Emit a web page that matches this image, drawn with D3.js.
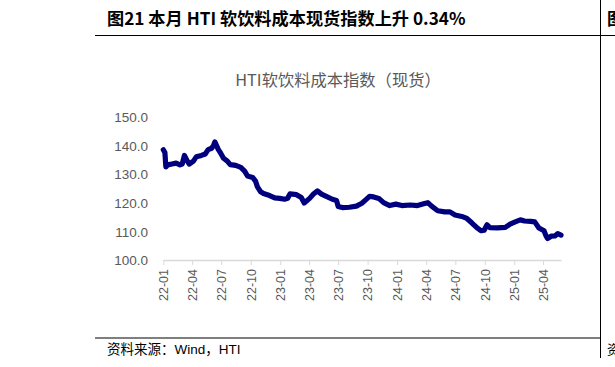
<!DOCTYPE html>
<html>
<head>
<meta charset="utf-8">
<script src="https://cdn.jsdelivr.net/npm/d3@7"></script>
<style>
  html, body { margin: 0; padding: 0; background: #fff; }
  svg { display: block; }
</style>
</head>
<body>
<svg id="chart" width="615" height="367"></svg>
<script>
// ---- data ----
const dates = ["2022-01-01","2022-01-06","2022-01-09","2022-01-15","2022-01-28","2022-02-10","2022-02-22","2022-03-01","2022-03-08","2022-03-17","2022-03-23","2022-04-05","2022-04-14","2022-04-30","2022-05-12","2022-05-21","2022-06-01","2022-06-07","2022-06-11","2022-06-16","2022-06-22","2022-06-28","2022-07-08","2022-07-20","2022-07-29","2022-08-15","2022-08-31","2022-09-12","2022-09-21","2022-10-07","2022-10-16","2022-10-22","2022-11-01","2022-11-10","2022-11-29","2022-12-15","2022-12-31","2023-01-15","2023-01-24","2023-02-01","2023-02-21","2023-03-08","2023-03-17","2023-04-03","2023-04-15","2023-04-27","2023-05-10","2023-05-25","2023-06-13","2023-06-26","2023-07-01","2023-07-14","2023-08-05","2023-08-27","2023-09-13","2023-09-25","2023-10-07","2023-10-20","2023-11-05","2023-11-20","2023-12-09","2023-12-28","2024-01-16","2024-02-11","2024-03-05","2024-03-24","2024-04-06","2024-04-18","2024-05-07","2024-05-29","2024-06-14","2024-06-30","2024-07-21","2024-08-06","2024-08-22","2024-09-07","2024-09-20","2024-09-29","2024-10-08","2024-10-17","2024-11-09","2024-12-04","2024-12-19","2025-01-04","2025-01-20","2025-02-02","2025-02-21","2025-03-06","2025-03-19","2025-04-04","2025-04-10","2025-04-15","2025-04-26","2025-05-08","2025-05-17","2025-05-27"];
const values = [138.5,137.5,132.5,133.2,133.5,133.8,133.2,133.5,136.5,134.5,133.5,134.5,136.0,136.5,137.0,138.5,139.0,140.0,141.2,140.0,138.5,137.5,135.5,134.5,133.3,133.0,132.3,131.0,129.3,128.8,127.5,125.5,123.8,123.2,122.5,121.7,121.5,121.2,121.5,123.1,122.8,121.8,119.9,121.5,123.0,124.1,123.0,122.2,121.2,120.8,118.7,118.3,118.4,118.8,119.8,121.0,122.2,122.0,121.5,120.0,119.0,119.5,119.0,119.2,119.0,119.6,120.0,118.8,117.2,116.8,116.8,115.7,115.2,114.5,112.9,111.2,110.2,110.4,112.3,111.3,111.2,111.4,112.5,113.3,114.0,113.6,113.5,113.3,111.2,110.2,108.5,107.5,108.3,108.4,109.2,108.7];
const yTicks = [100, 110, 120, 130, 140, 150];
const xTickDates = ["2022-01-01","2022-04-01","2022-07-01","2022-10-01","2023-01-01","2023-04-01","2023-07-01","2023-10-01","2024-01-01","2024-04-01","2024-07-01","2024-10-01","2025-01-01","2025-04-01"];
const figTitle = "图21 本月 HTI 软饮料成本现货指数上升 0.34%";
const chartTitle = "HTI软饮料成本指数（现货）";
const sourceText = "资料来源：Wind，HTI";

// ---- drawing ----
const parse = d3.utcParse("%Y-%m-%d");
const data = dates.map((d, i) => ({ date: parse(d), value: values[i] }));
const svg = d3.select("#chart");
const cjk = "'Noto Sans CJK SC', 'Liberation Sans', sans-serif";
const latin = "'Liberation Sans', Arial, 'Noto Sans CJK SC', sans-serif";

// frame lines
svg.append("line").attr("x1", 95).attr("x2", 615).attr("y1", 35.5).attr("y2", 35.5)
  .attr("stroke", "#000").attr("stroke-width", 1);
svg.append("line").attr("x1", 600.5).attr("x2", 600.5).attr("y1", 0).attr("y2", 358)
  .attr("stroke", "#000").attr("stroke-width", 1);
svg.append("line").attr("x1", 95).attr("x2", 600).attr("y1", 338).attr("y2", 338)
  .attr("stroke", "#7f7f7f").attr("stroke-width", 2);

// figure title
svg.append("text").attr("x", 107).attr("y", 25)
  .attr("font-family", cjk).attr("font-weight", "bold").attr("font-size", 17.2)
  .attr("fill", "#000").text(figTitle);
// neighbouring column text, cut off by the page edge as in the reference
svg.append("text").attr("x", 607).attr("y", 25)
  .attr("font-family", cjk).attr("font-weight", "bold").attr("font-size", 17)
  .attr("fill", "#000").text("图22");
svg.append("text").attr("x", 607).attr("y", 354)
  .attr("font-family", cjk).attr("font-size", 13)
  .attr("fill", "#000").text("资料");

// chart title
svg.append("text").attr("x", 338).attr("y", 86).attr("text-anchor", "middle")
  .attr("font-family", cjk).attr("font-size", 16.3)
  .attr("fill", "#595959").text(chartTitle);

// scales
const x = d3.scaleUtc().domain([data[0].date, data[data.length - 1].date]).range([163.3, 561]);
const y = d3.scaleLinear().domain([100, 150]).range([260, 116.7]);

// y axis labels (no axis line)
const yAxis = d3.axisLeft(y).tickValues(yTicks).tickFormat(d3.format(".1f")).tickSize(0).tickPadding(0);
const yg = svg.append("g").attr("transform", "translate(148,0)").call(yAxis);
yg.select(".domain").remove();
yg.selectAll("text").attr("font-family", latin).attr("font-size", 13.5).attr("fill", "#595959").attr("dy", "0.35em");

// x axis
const xAxis = d3.axisBottom(x).tickValues(xTickDates.map(parse)).tickFormat(d3.utcFormat("%y-%m")).tickSize(5).tickSizeOuter(0);
const xg = svg.append("g").attr("transform", "translate(0,260)").call(xAxis);
xg.select(".domain").attr("stroke", "#d9d9d9").attr("stroke-width", 1.5);
xg.selectAll(".tick line").attr("stroke", "#d9d9d9").attr("stroke-width", 1);
xg.selectAll("text")
  .attr("font-family", latin).attr("font-size", 12.5).attr("fill", "#595959")
  .attr("text-anchor", "end").attr("transform", "rotate(-90)")
  .attr("x", -9).attr("y", 0).attr("dy", "0.35em");

// line
const line = d3.line().x(d => x(d.date)).y(d => y(d.value));
svg.append("path").datum(data).attr("d", line)
  .attr("fill", "none").attr("stroke", "#00007f").attr("stroke-width", 5.2)
  .attr("stroke-linejoin", "round").attr("stroke-linecap", "round");

// source
svg.append("text").attr("x", 107).attr("y", 354)
  .attr("font-family", latin).attr("font-size", 13.5)
  .attr("fill", "#000").text(sourceText);
</script>
</body>
</html>
